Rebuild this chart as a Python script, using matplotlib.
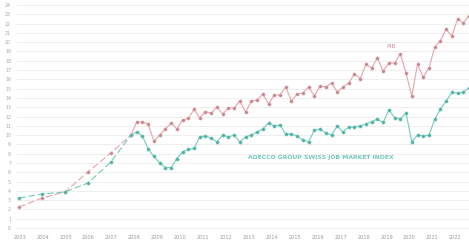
import matplotlib
matplotlib.use("Agg")
import matplotlib.pyplot as plt
import numpy as np

# ---- data (index units) ----
annual_years = [2003, 2004, 2005, 2006, 2007]
pib_annual = [2.27, 3.23, 3.88, 6.03, 8.07]
job_annual = [3.23, 3.66, 3.88, 4.84, 7.10]

start_year = 2008  # quarterly from 2008 Q1 to 2022 Q4
pib_q_px = [135, 122, 122, 124, 141, 135, 129, 123, 129, 120, 118.5, 109.5, 118, 111.5, 113.5, 107,
            114, 108, 108, 101, 112, 101, 100, 94, 104, 95, 95, 87, 101, 94, 93, 87,
            96, 86, 87, 83, 92, 87, 83, 74, 78.5, 64.5, 68, 58, 71, 63, 63, 54,
            73, 96, 64.5, 77, 68, 47.5, 40.5, 29.5, 36, 19, 23, 15.5]
job_q_px = [135, 132, 136, 149, 156.5, 163, 167.5, 167.5, 158.5, 152, 149.5, 148.5, 137, 136, 138, 142,
            135, 137, 135, 142, 137, 135, 132, 129, 123, 126, 125, 134, 134, 136, 140, 142,
            130, 129, 133, 135, 126, 132, 127, 127, 126, 124, 121.5, 119, 122.5, 110, 117.5, 119,
            113, 142, 135, 136, 135, 119.5, 109, 101, 92.5, 93, 92, 88]
# convert picture-read pixel heights to index values
pib_quarterly = [round((228 - p) / 9.29, 2) for p in pib_q_px]
job_quarterly = [round((228 - p) / 9.29, 2) for p in job_q_px]

year_labels = list(range(2003, 2023))
y_ticks = list(range(0, 25))

# ---- figure ----
W, H = 469, 247
fig = plt.figure(figsize=(W / 100, H / 100), dpi=100)
ax_bottom_px = 232
ax = fig.add_axes([0, (H - ax_bottom_px) / H, 1, ax_bottom_px / H])

px_per_year = 22.92
x0_t = 2008 - 131 / px_per_year
x1_t = 2008 + 338 / px_per_year
ax.set_xlim(x0_t, x1_t)
ax.set_ylim((228 - ax_bottom_px) / 9.29, 228 / 9.29)

for s in ax.spines.values():
    s.set_visible(False)

grid_c = "#ebebeb"
for v in y_ticks:
    ax.axhline(v, xmin=17 / W, xmax=1, color=grid_c, lw=0.6, zorder=0)

pib_line = "#e8a3ab"
pib_mark = "#b8868c"
job_line = "#72cbbd"
job_mark = "#4fab9d"

t_annual = np.array(annual_years, dtype=float) + 0.12
t_q = start_year + np.arange(len(pib_quarterly)) / 4.0

# dashed annual segments connecting to first quarter
ax.plot(list(t_annual) + [t_q[0]], pib_annual + [pib_quarterly[0]], color=pib_line,
        lw=0.8, ls=(0, (6, 2.5)), zorder=2)
ax.plot(list(t_annual) + [t_q[0]], job_annual + [job_quarterly[0]], color=job_line,
        lw=0.8, ls=(0, (6, 2.5)), zorder=2)
ax.plot(t_annual, pib_annual, ls="none", marker="o", ms=2.3, mfc=pib_mark, mec=pib_line,
        mew=0.4, zorder=3)
ax.plot(t_annual, job_annual, ls="none", marker="o", ms=2.3, mfc=job_mark, mec=job_line,
        mew=0.4, zorder=3)

ax.plot(t_q, pib_quarterly, color=pib_line, lw=0.8, marker="o", ms=2.3, mfc=pib_mark,
        mec=pib_line, mew=0.4, zorder=3, clip_on=False)
ax.plot(t_q, job_quarterly, color=job_line, lw=0.8, marker="o", ms=2.3, mfc=job_mark,
        mec=job_line, mew=0.4, zorder=3, clip_on=False)

# labels
ax.text(2008 + (391 - 131) / px_per_year, (228 - 47) / 9.29, "PIB", color="#d9939c",
        fontsize=4.2, ha="center", va="center")
ax.text(2008 + (321 - 131) / px_per_year, (228 - 158) / 9.29,
        "ADECCO GROUP SWISS JOB MARKET INDEX", color="#72cbbd", fontsize=4.4,
        ha="center", va="center", fontweight="bold")

# ticks
ax.set_xticks([y + 0.15 for y in year_labels])
ax.set_xticklabels([str(y) for y in year_labels])
ax.tick_params(axis="x", length=0, pad=2.5, labelsize=3.6, labelcolor="#9a9a9a")
ax.set_yticks(y_ticks)
ax.set_yticklabels([str(v) for v in y_ticks])
ax.tick_params(axis="y", length=0, pad=-8, labelsize=3.4, labelcolor="#a8a8a8")
for lab in ax.get_yticklabels():
    lab.set_horizontalalignment("right")

fig.savefig("out.png", dpi=100, facecolor="white")
